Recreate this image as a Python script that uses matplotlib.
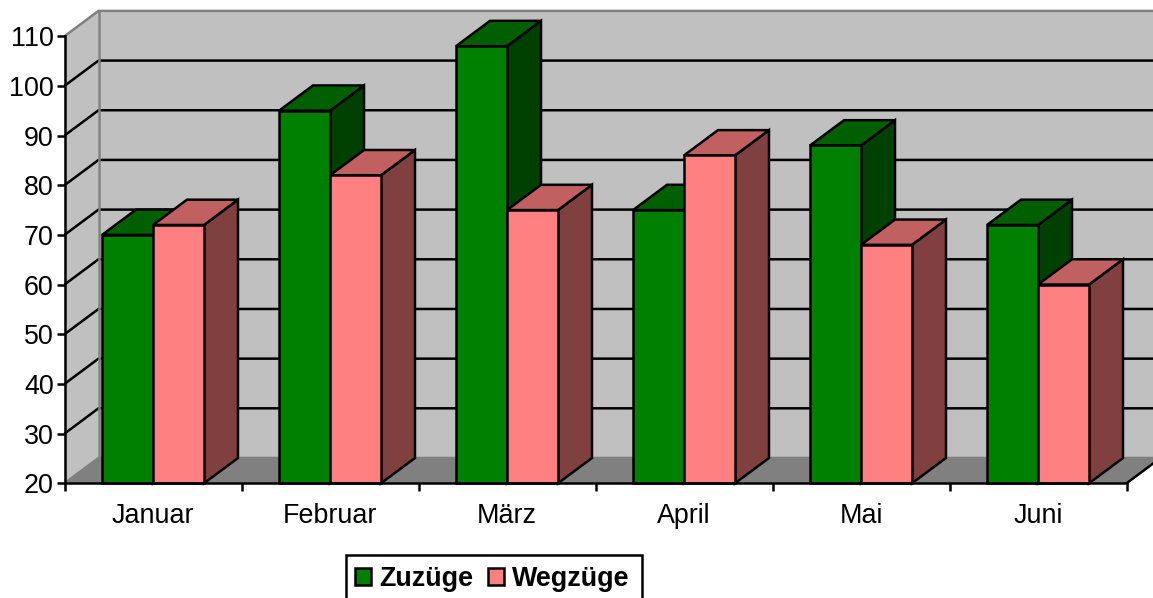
import matplotlib
matplotlib.use('Agg')
import matplotlib.pyplot as plt
from matplotlib.patches import Polygon, Patch, Rectangle

plt.rcParams['font.family'] = ['Liberation Sans', 'DejaVu Sans']

months = ['Januar', 'Februar', 'März', 'April', 'Mai', 'Juni']
zuzuege = [70, 95, 108, 75, 88, 72]
wegzuege = [72, 82, 75, 86, 68, 60]
yticks = [20, 30, 40, 50, 60, 70, 80, 90, 100, 110]

W, H = 1153, 598
left, right = 64.5, 1126.5
bottom, top = 483.3, 36.2
lw = 1.8
fs = 19.4

# 3D offset of the back wall, in data units
dx = 34 / ((right - left) / 6)
dy = 25.3 / ((bottom - top) / 90)
bar_w = 0.288
x0, x1 = 0, 6
y0, y1 = 20, 110

fig = plt.figure(figsize=(W / 100, H / 100), dpi=100, facecolor='w')
ax = fig.add_axes([left / W, 1 - bottom / H, (right - left) / W, (bottom - top) / H])
ax.set_xlim(x0, x1)
ax.set_ylim(y0, y1)
ax.patch.set_visible(False)


def poly(pts, fc, ec='none', z=1, lw=lw):
    ax.add_patch(Polygon(pts, closed=True, fc=fc, ec=ec, lw=lw, zorder=z,
                         clip_on=False, joinstyle='miter'))


def line(xs, ys, c='k', z=1.5):
    ax.plot(xs, ys, color=c, lw=lw, zorder=z, clip_on=False, solid_capstyle='butt')


# walls and floor
poly([(x0 + dx, y0 + dy), (x1 + dx, y0 + dy), (x1 + dx, y1 + dy), (x0 + dx, y1 + dy)], '#c0c0c0')
poly([(x0, y0), (x0 + dx, y0 + dy), (x0 + dx, y1 + dy), (x0, y1)], '#c0c0c0')
poly([(x0, y0), (x1, y0), (x1 + dx, y0 + dy), (x0 + dx, y0 + dy)], '#808080')

# gridlines
for v in yticks[1:-1]:
    line([x0, x0 + dx, x1 + dx], [v, v + dy, v + dy])
line([x0, x0 + dx, x1 + dx], [y1, y1 + dy, y1 + dy], c='#808080')
line([x0 + dx, x0 + dx], [y0 + dy, y1 + dy], c='#808080')
line([x0, x0 + dx, x1 + dx], [y0, y0 + dy, y0 + dy], c='#808080')
line([x1, x1 + dx], [y0, y0 + dy])


def bar3d(xa, val, front, tp, side, z):
    xb = xa + bar_w
    poly([(xb, y0), (xb + dx, y0 + dy), (xb + dx, val + dy), (xb, val)], side, 'k', z)
    poly([(xa, val), (xb, val), (xb + dx, val + dy), (xa + dx, val + dy)], tp, 'k', z)
    poly([(xa, y0), (xb, y0), (xb, val), (xa, val)], front, 'k', z)


z = 3
for i in range(len(months)):
    c = i + 0.5
    bar3d(c - bar_w, zuzuege[i], '#008000', '#006000', '#004000', z)
    bar3d(c, wegzuege[i], '#ff8080', '#c06060', '#804040', z + 1)
    z += 2

for s in ('top', 'right'):
    ax.spines[s].set_visible(False)
for s in ('left', 'bottom'):
    ax.spines[s].set_linewidth(lw)
    ax.spines[s].set_zorder(50)

ax.set_yticks(yticks)
ax.set_xticks(range(7))
ax.set_xticklabels([])
ax.set_xticks([i + 0.5 for i in range(6)], minor=True)
ax.set_xticklabels(months, minor=True)
ax.tick_params(axis='both', which='major', length=5.8, width=lw, labelsize=fs, pad=2)
ax.tick_params(axis='x', which='minor', length=0, labelsize=fs, pad=14.5)

# legend frame runs off the bottom of the picture
fig.add_artist(Rectangle((346 / W, -0.02), 296 / W, 1 - 555 / H + 0.02, transform=fig.transFigure,
                         fc='w', ec='k', lw=lw))
handles = [Patch(fc='#008000', ec='k', lw=lw, label='Zuzüge'),
           Patch(fc='#ff8080', ec='k', lw=lw, label='Wegzüge')]
leg = fig.legend(handles=handles, loc='upper left', bbox_to_anchor=(355 / W, 1 - 566 / H),
                 ncol=2, frameon=False, prop={'size': fs, 'weight': 'bold'},
                 handlelength=0.6, handleheight=0.6,
                 handletextpad=0.3, columnspacing=0.55, borderpad=0, borderaxespad=0)
leg.set_zorder(10)

fig.savefig('out.png', dpi=100)
